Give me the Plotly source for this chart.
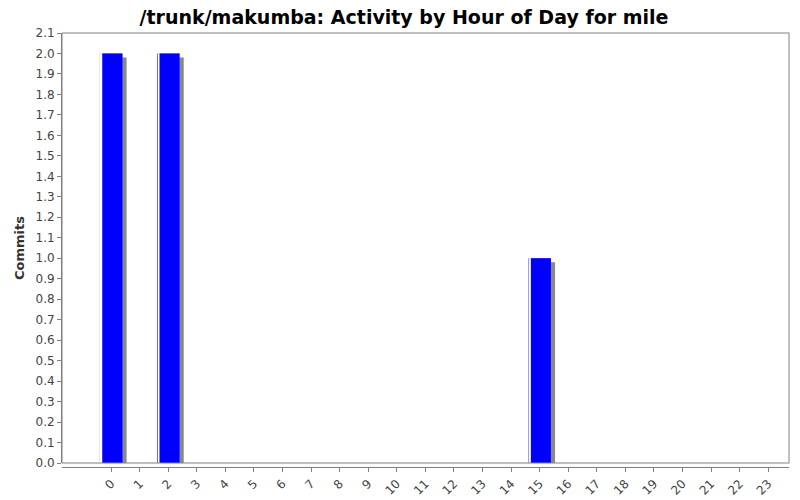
import plotly.graph_objects as go

hours = list(range(24))
commits = [2, 0, 2, 0, 0, 0, 0, 0, 0, 0, 0, 0, 0, 0, 0, 1, 0, 0, 0, 0, 0, 0, 0, 0]
tick_labels = [str(h) for h in hours]

title = "/trunk/makumba: Activity by Hour of Day for mile"
font = "DejaVu Sans"

# bar geometry in category units (approx. 27.5 px per hour)
bar_w = 0.79
shadow_dx = 0.146
shadow_dy = 0.02

fig = go.Figure()
# drop shadow
fig.add_trace(go.Bar(x=hours, y=commits, base=-shadow_dy, width=bar_w,
                     offset=-bar_w / 2 + shadow_dx, marker_color="#888888",
                     marker_line_width=0))
# light edge
fig.add_trace(go.Bar(x=hours, y=commits, width=bar_w, offset=-bar_w / 2,
                     marker_color="#6a6aff", marker_line_width=0))
# white highlight line
fig.add_trace(go.Bar(x=hours, y=commits, width=0.05, offset=-bar_w / 2 + 0.04,
                     marker_color="#ffffff", marker_line_width=0))
# main blue body
fig.add_trace(go.Bar(x=hours, y=commits, width=bar_w - 0.088, offset=-bar_w / 2 + 0.088,
                     marker_color="#0000ff", marker_line_width=0))

# page body has an 8px margin, so the figure is 8px smaller than the window
fig.update_layout(
    width=792, height=492,
    barmode="overlay",
    showlegend=False,
    paper_bgcolor="white", plot_bgcolor="white",
    margin=dict(l=54, r=11, t=25, b=33),
    font=dict(family=font, size=12, color="#444444"),
    title=dict(text="<b>" + title + "</b>", x=0.5, xanchor="center",
               y=0.982, yanchor="middle",
               font=dict(family=font, size=19, color="black")),
    xaxis=dict(range=[-1.72, 23.73], tickmode="array", tickvals=hours,
               ticktext=tick_labels, tickangle=-45, showgrid=False,
               zeroline=False, showline=True, linecolor="#808080",
               ticks="outside", ticklen=4, tickcolor="#808080",
               anchor="free", position=0, automargin=False),
    yaxis=dict(range=[0, 2.1], dtick=0.1, tickformat=".1f", showgrid=False,
               zeroline=False, showline=True, linecolor="#808080",
               ticks="outside", ticklen=4, tickcolor="#808080",
               domain=[0.0092, 1], automargin=False,
               title=dict(text="<b>Commits</b>", standoff=7,
                          font=dict(family=font, size=13, color="#333333"))),
    shapes=[dict(type="rect", xref="x domain", yref="y domain",
                 x0=0, x1=1, y0=0, y1=1,
                 line=dict(color="#808080", width=1), layer="above")],
)

fig.write_html("out.html")
